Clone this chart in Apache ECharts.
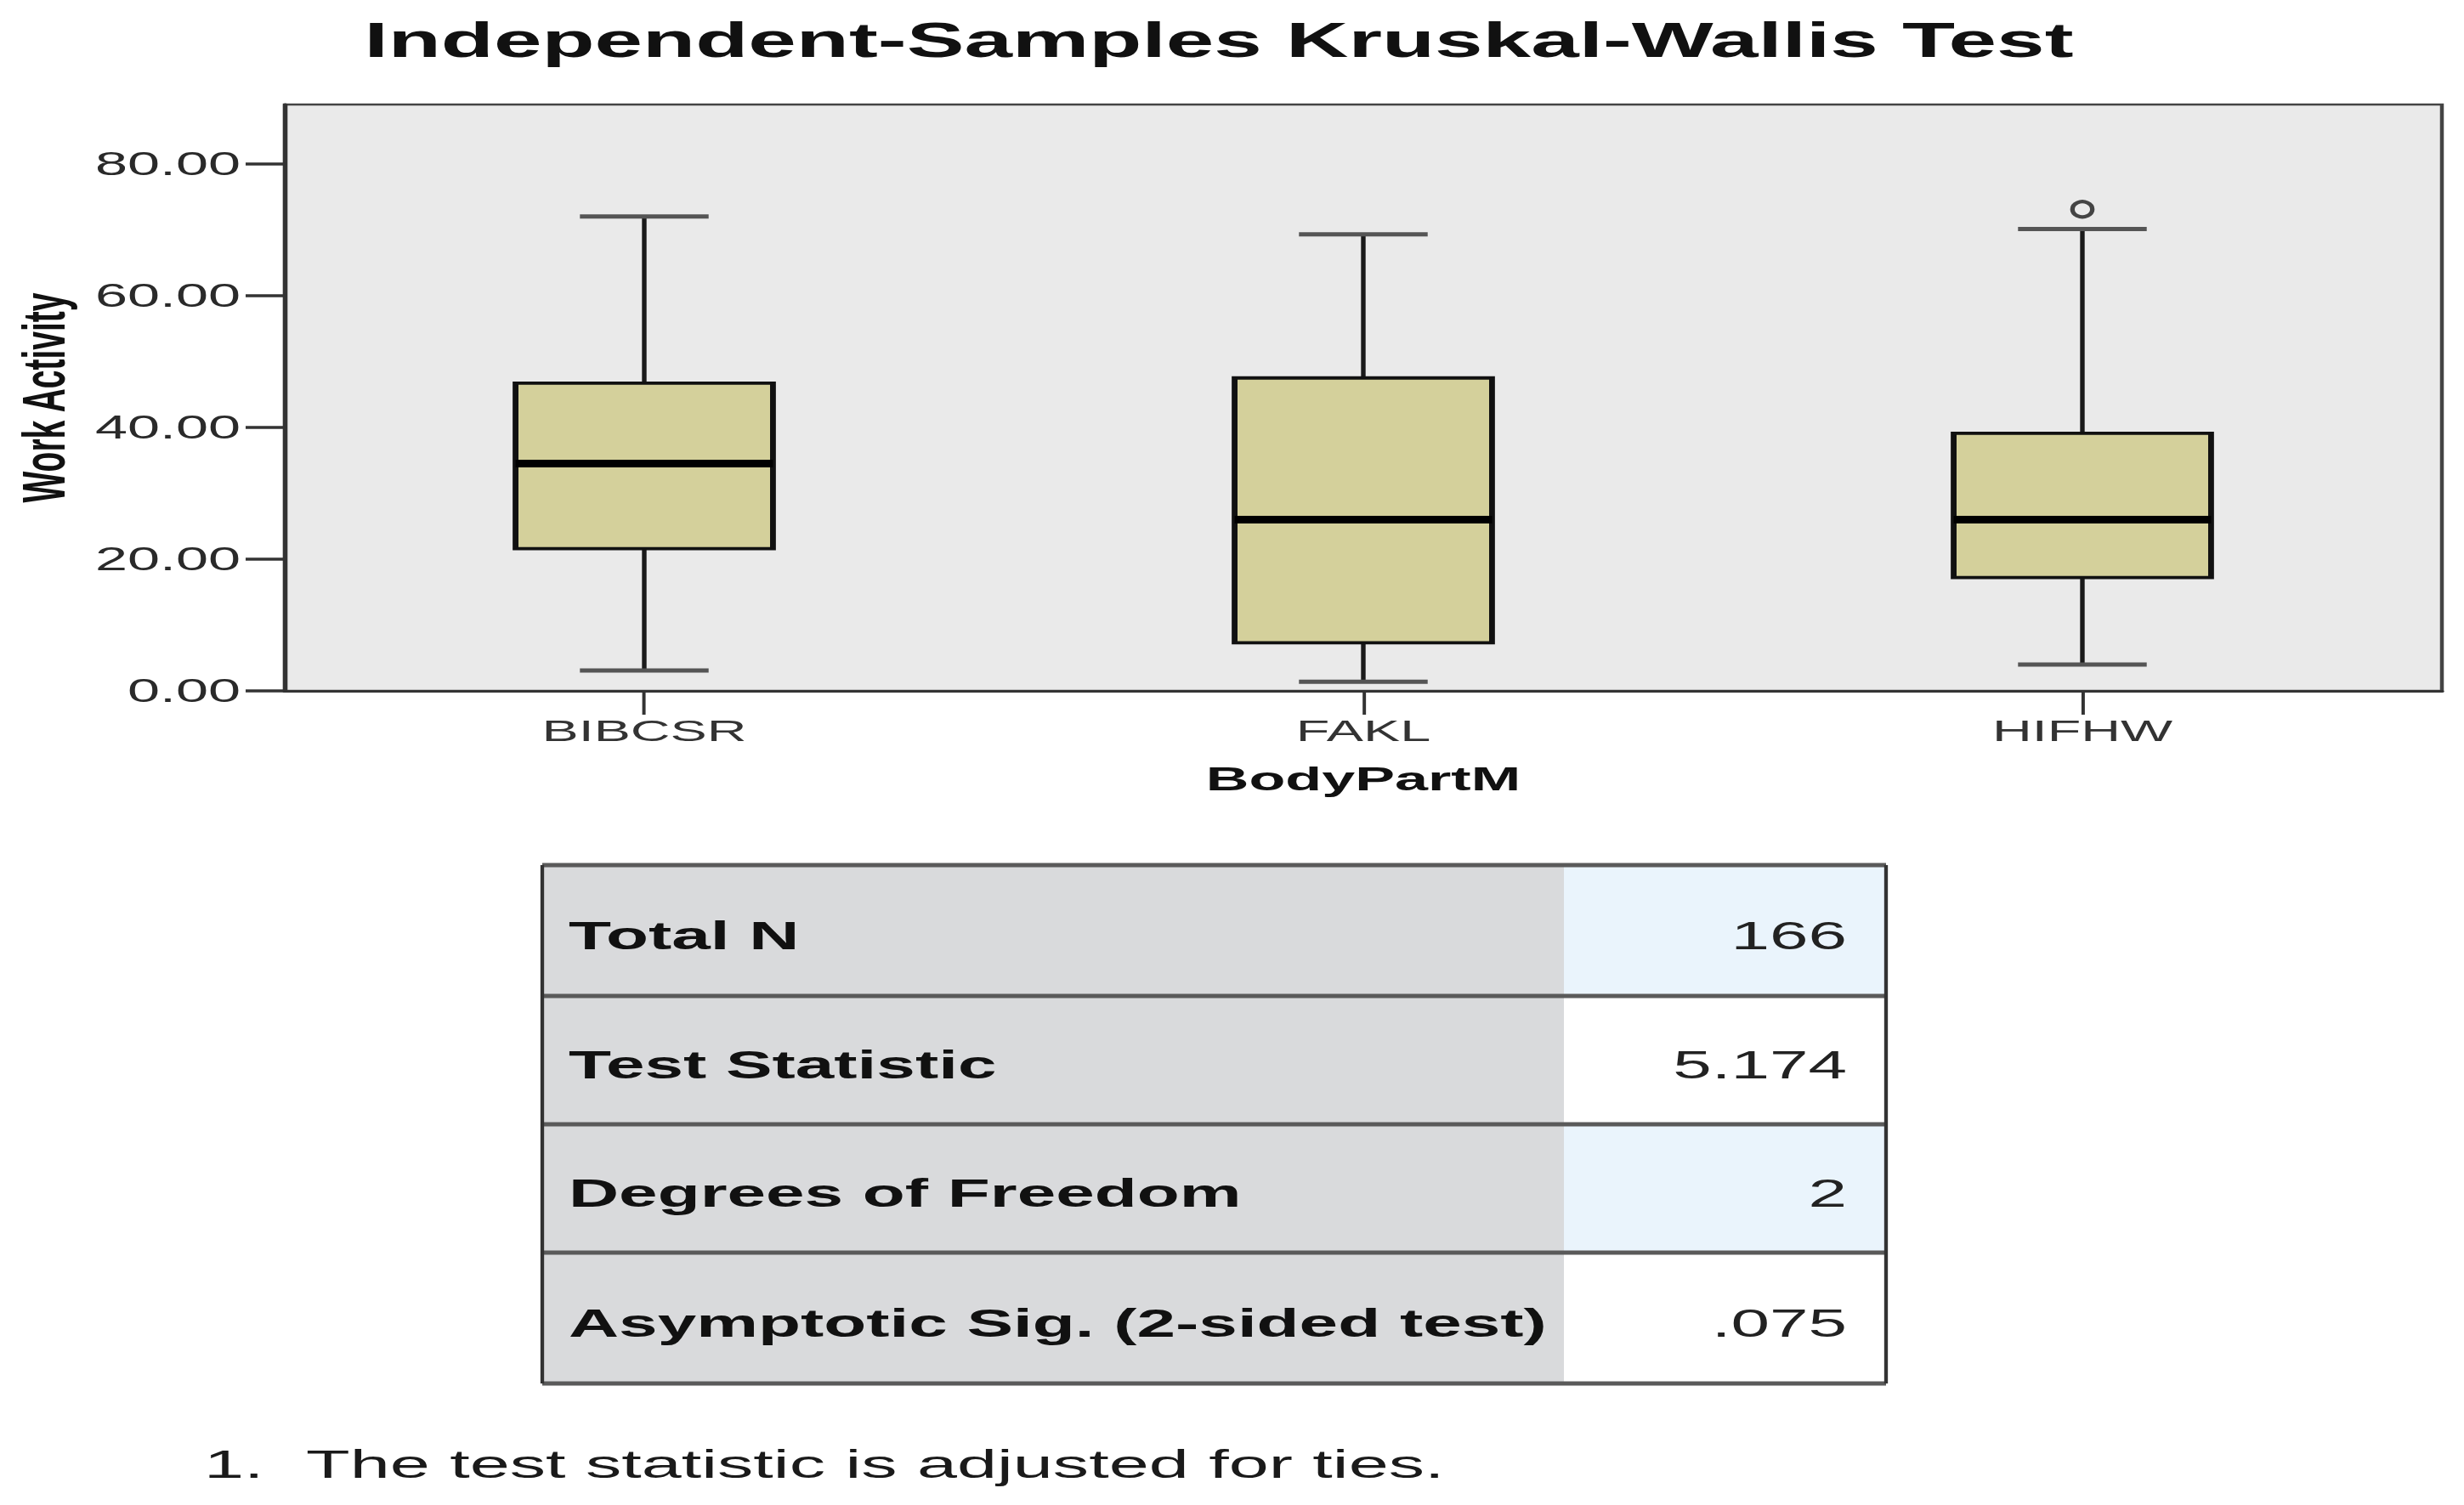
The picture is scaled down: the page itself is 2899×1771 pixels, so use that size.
<!DOCTYPE html>
<html>
<head>
    <meta charset="utf-8">
    <script src="https://cdn.jsdelivr.net/npm/echarts@6.0.0/dist/echarts.min.js"></script>
    <style>
        html, body {
            margin: 0;
            padding: 0;
            background: #fff;
            overflow: hidden;
        }
        #chart {
            width: 1611px;
            height: 1771px;
            transform-origin: 0 0;
        }
    </style>
</head>
<body>
<div id="chart"></div>
<script>
    // values
    const categories = ['BIBCSR', 'FAKL', 'HIFHW']
    const lowWhisker = [3.1, 1.4, 4.0]
    const q1 = [21.6, 7.3, 17.2]
    const median = [34.5, 26.0, 26.0]
    const q3 = [46.7, 47.5, 39.1]
    const highWhisker = [72.0, 69.3, 70.1]
    const outliers = [['HIFHW', 73.1]]
    const yTicks = [0, 20, 40, 60, 80]

    const tableLabels = ['Total N', 'Test Statistic', 'Degrees of Freedom', 'Asymptotic Sig. (2-sided test)']
    const tableValues = ['166', '5.174', '2', '.075']
    const footnote = ['1.', 'The test statistic is adjusted for ties.']

    // the original picture is stretched sideways, so the whole chart is drawn narrow and scaled
    const W = 1611
    const S = 2899 / W
    const X = v => v / S
    const FONT = '"Liberation Sans", Arial, sans-serif'

    const chartDom = document.getElementById('chart')
    chartDom.style.transform = 'scaleX(' + S + ')'
    const chart = echarts.init(chartDom, null, { renderer: 'svg' })

    const boxData = categories.map((c, i) => [i, lowWhisker[i], q1[i], median[i], q3[i], highWhisker[i]])

    function renderBox(params, api) {
        const i = api.value(0)
        const pLow = api.coord([i, api.value(1)])
        const pQ1 = api.coord([i, api.value(2)])
        const pMed = api.coord([i, api.value(3)])
        const pQ3 = api.coord([i, api.value(4)])
        const pHigh = api.coord([i, api.value(5)])
        const band = api.size([1, 0])[0]
        const boxW = band * 0.358
        const capW = boxW / 2
        const cx = pLow[0]
        const whisker = { stroke: '#1a1a1a', lineWidth: 3 }
        const cap = { stroke: '#555', lineWidth: 5 }
        return {
            type: 'group',
            children: [
                { type: 'line', shape: { x1: cx, y1: pLow[1], x2: cx, y2: pQ1[1] }, style: whisker },
                { type: 'line', shape: { x1: cx, y1: pQ3[1], x2: cx, y2: pHigh[1] }, style: whisker },
                { type: 'line', shape: { x1: cx - capW / 2, y1: pLow[1], x2: cx + capW / 2, y2: pLow[1] }, style: cap },
                { type: 'line', shape: { x1: cx - capW / 2, y1: pHigh[1], x2: cx + capW / 2, y2: pHigh[1] }, style: cap },
                {
                    type: 'rect',
                    shape: { x: cx - boxW / 2, y: pQ3[1], width: boxW, height: pQ1[1] - pQ3[1] },
                    style: { fill: '#D4D09B', stroke: '#111', lineWidth: 3.8 }
                },
                { type: 'line', shape: { x1: cx - boxW / 2, y1: pMed[1], x2: cx + boxW / 2, y2: pMed[1] }, style: { stroke: '#000', lineWidth: 9 } }
            ]
        }
    }

    // table and footnote
    const rowLines = [1018, 1172, 1323, 1474, 1628]
    const tLeft = 638, tMid = 1840, tRight = 2219
    const graphics = []
    graphics.push({
        type: 'text',
        x: X(1434), y: 47,
        style: { text: 'Independent-Samples Kruskal-Wallis Test', font: 'bold 56.5px ' + FONT, fill: '#111', textAlign: 'center', textVerticalAlign: 'middle' }
    })
    tableLabels.forEach((lab, r) => {
        const y0 = rowLines[r], y1 = rowLines[r + 1]
        graphics.push({
            type: 'rect', shape: { x: X(tLeft), y: y0, width: X(tMid - tLeft), height: y1 - y0 },
            style: { fill: '#D9DADC' }
        })
        graphics.push({
            type: 'rect', shape: { x: X(tMid), y: y0, width: X(tRight - tMid), height: y1 - y0 },
            style: { fill: r % 2 === 0 ? '#EAF4FC' : '#FFFFFF' }
        })
        graphics.push({
            type: 'text', x: X(669), y: (y0 + y1) / 2 + 6,
            style: { text: lab, font: 'bold 45.5px ' + FONT, fill: '#111', textAlign: 'left', textVerticalAlign: 'middle' }
        })
        graphics.push({
            type: 'text', x: X(2173), y: (y0 + y1) / 2 + 6,
            style: { text: tableValues[r], font: '45.5px ' + FONT, fill: '#222', textAlign: 'right', textVerticalAlign: 'middle' }
        })
    })
    rowLines.forEach(y => {
        graphics.push({
            type: 'line', shape: { x1: X(tLeft), y1: y, x2: X(tRight), y2: y },
            style: { stroke: '#5A5A5A', lineWidth: 5 }
        })
    })
    ;[tLeft, tRight].forEach(x => {
        graphics.push({
            type: 'line', shape: { x1: X(x), y1: rowLines[0], x2: X(x), y2: rowLines[rowLines.length - 1] },
            style: { stroke: '#333', lineWidth: 2.4 }
        })
    })
    graphics.push({
        type: 'text', x: X(240), y: 1723,
        style: { text: footnote[0], font: '47px ' + FONT, fill: '#1a1a1a', textAlign: 'left', textVerticalAlign: 'middle' }
    })
    graphics.push({
        type: 'text', x: X(360), y: 1723,
        style: { text: footnote[1], font: '47px ' + FONT, fill: '#1a1a1a', textAlign: 'left', textVerticalAlign: 'middle' }
    })

    const option = {
        animation: false,
        backgroundColor: '#fff',
        grid: {
            left: X(335),
            top: 123,
            width: X(2873 - 335),
            height: 813 - 123,
            show: true,
            backgroundColor: '#EAEAEA',
            borderColor: '#444',
            borderWidth: 2.5
        },
        xAxis: {
            type: 'category',
            data: categories,
            name: 'BodyPartM',
            nameLocation: 'middle',
            nameGap: 84,
            nameTextStyle: { fontFamily: FONT, fontWeight: 'bold', fontSize: 39, color: '#111' },
            axisLine: { lineStyle: { color: '#333', width: 3 } },
            axisTick: { show: true, alignWithLabel: true, length: 28, lineStyle: { color: '#333', width: 2.2 } },
            axisLabel: { fontFamily: FONT, fontSize: 36, color: '#333', margin: 29 },
            splitLine: { show: false }
        },
        yAxis: {
            type: 'value',
            min: 0,
            max: 89,
            interval: 20,
            name: 'Work Activity',
            nameLocation: 'middle',
            nameGap: 138,
            nameTextStyle: { fontFamily: FONT, fontWeight: 'bold', fontSize: 39, color: '#111' },
            axisLine: { show: true, lineStyle: { color: '#333', width: 3 } },
            axisTick: { show: true, length: X(46), customValues: yTicks, lineStyle: { color: '#333', width: 3.5 } },
            axisLabel: {
                fontFamily: FONT, fontSize: 38, color: '#2a2a2a', margin: X(52),
                customValues: yTicks,
                formatter: v => v.toFixed(2)
            },
            splitLine: { show: false }
        },
        graphic: graphics,
        series: [
            {
                type: 'custom',
                renderItem: renderBox,
                encode: { x: 0, y: [1, 2, 3, 4, 5] },
                data: boxData,
                z: 3
            },
            {
                type: 'scatter',
                data: outliers,
                symbol: 'circle',
                symbolSize: [13, 18],
                itemStyle: { color: '#EAEAEA', borderColor: '#444', borderWidth: 3.5, opacity: 1 },
                z: 4
            }
        ]
    }
    chart.setOption(option)
</script>
</body>
</html>
